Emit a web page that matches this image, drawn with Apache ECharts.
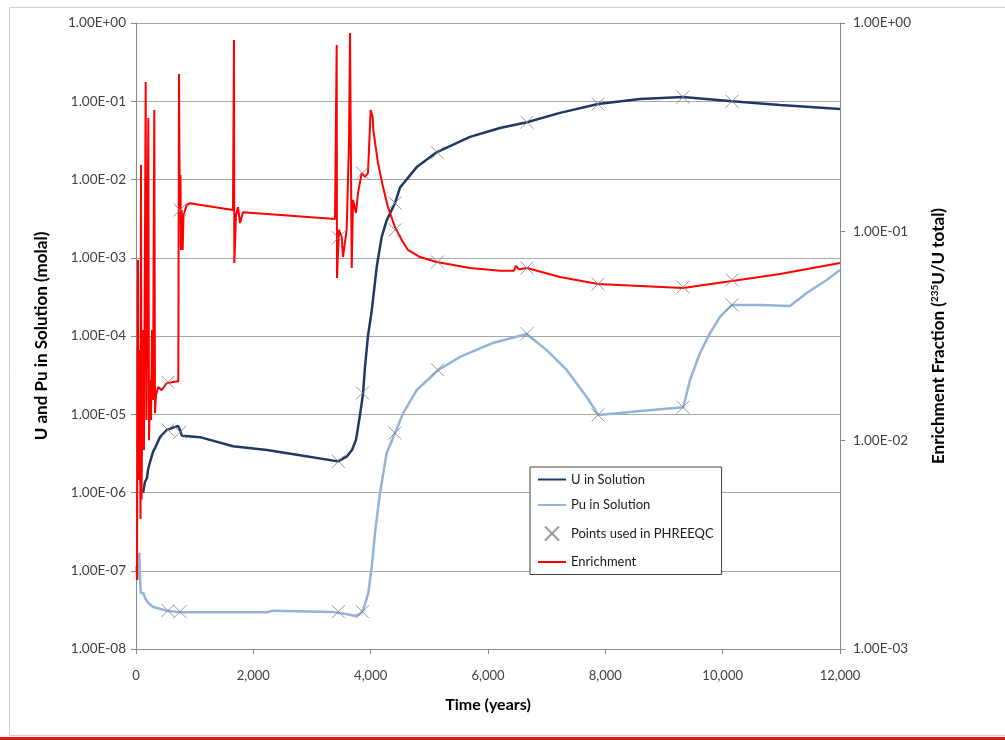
<!DOCTYPE html>
<html>
<head>
<meta charset="utf-8">
<script src="https://cdn.jsdelivr.net/npm/echarts@6/dist/echarts.min.js"></script>
<style>
  html, body { margin: 0; padding: 0; background: #fff; }
  #chart { width: 1005px; height: 740px; }
</style>
</head>
<body>
<div id="chart"></div>
<script>
// ---- Data ----
const xTickLabels = ['0', '2,000', '4,000', '6,000', '8,000', '10,000', '12,000'];
const leftTickLabels = ['1.00E-08', '1.00E-07', '1.00E-06', '1.00E-05', '1.00E-04', '1.00E-03', '1.00E-02', '1.00E-01', '1.00E+00'];
const rightTickLabels = ['1.00E-03', '1.00E-02', '1.00E-01', '1.00E+00'];

const uYears = [120,153,187,204,239,290,324,409,528,716,750,784,1091,1653,2233,2795,3443,3596,3682,3750,3818,3869,3903,3954,4018,4103,4188,4273,4415,4500,4785,5131,5693,6204,6665,7227,7875,8591,9324,10159,10977,12000];
const uValues = [9.9e-7,1.36e-6,1.53e-6,1.94e-6,2.45e-6,3.3e-6,3.7e-6,5.1e-6,6.3e-6,7.1e-6,6.3e-6,5.3e-6,5.1e-6,3.9e-6,3.5e-6,3.0e-6,2.5e-6,2.9e-6,3.5e-6,4.7e-6,9.8e-6,1.8e-5,4.0e-5,1.0e-4,2.1e-4,7.6e-4,1.85e-3,3.0e-3,5.0e-3,7.9e-3,1.44e-2,2.24e-2,3.5e-2,4.55e-2,5.4e-2,7.1e-2,9.2e-2,1.07e-1,1.13e-1,1.0e-1,8.95e-2,7.95e-2];

const puYears = [22,56,80,124,153,210,295,523,750,2228,2335,3358,3591,3733,3818,3874,3960,4018,4074,4159,4273,4415,4556,4785,5153,5523,6085,6659,7000,7341,7682,7880,8600,9329,9443,9613,9784,9954,10153,10636,11147,11432,11773,12000];
const puValues = [7.6e-8,1.69e-7,5.2e-8,5.2e-8,4.49e-8,3.87e-8,3.44e-8,3.09e-8,2.94e-8,2.94e-8,3.09e-8,2.96e-8,2.8e-8,2.64e-8,2.8e-8,3.16e-8,5.2e-8,1.12e-7,3.03e-7,9.86e-7,3.2e-6,5.75e-6,1.04e-5,2.04e-5,3.68e-5,5.4e-5,8.15e-5,1.06e-4,6.6e-5,3.68e-5,1.66e-5,9.8e-6,1.1e-5,1.23e-5,2.74e-5,6.07e-5,1.09e-4,1.75e-4,2.49e-4,2.49e-4,2.42e-4,3.55e-4,5.2e-4,6.97e-4];

const enYears = [10,17,26,34,43,60,77,85,94,119,136,165,179,210,222,239,256,273,290,312,324,341,380,438,523,721,733,741,750,758,767,779,796,810,864,920,1653,1670,1676,1704,1739,1773,1824,3392,3421,3426,3460,3506,3528,3591,3631,3648,3677,3699,3750,3784,3847,3903,3954,4000,4034,4045,4125,4210,4295,4415,4529,4636,4841,5125,5693,6204,6443,6477,6528,6665,7227,7875,8591,9324,10159,10977,12000];
const enValues = [0.0025,0.00214,0.0217,0.0731,0.00646,0.0271,0.0042,0.209,0.0052,0.0338,0.009,0.521,0.0125,0.351,0.01,0.0195,0.0125,0.0338,0.0156,0.383,0.0135,0.0165,0.018,0.0174,0.0188,0.0192,0.570,0.220,0.127,0.187,0.0817,0.127,0.0817,0.120,0.134,0.137,0.127,0.829,0.0708,0.120,0.131,0.110,0.124,0.115,0.785,0.060,0.102,0.0943,0.0756,0.102,0.275,0.895,0.067,0.142,0.123,0.153,0.191,0.183,0.191,0.383,0.355,0.307,0.213,0.164,0.131,0.105,0.0912,0.0817,0.0756,0.0716,0.067,0.065,0.065,0.0685,0.066,0.067,0.0606,0.0561,0.0549,0.0537,0.058,0.0627,0.0708];

const markerYears = [545,750,3450,3860,4415,5140,6665,7875,9324,10159];
const markerU = [6.3e-6,5.9e-6,2.5e-6,1.87e-5,5.0e-3,2.2e-2,5.4e-2,9.2e-2,1.13e-1,1.0e-1];
const markerPu = [3.1e-8,3.0e-8,3.0e-8,3.0e-8,5.75e-6,3.7e-5,1.07e-4,9.8e-6,1.23e-5,2.5e-4];
const markerEn = [0.019,0.127,0.0935,0.191,0.102,0.0716,0.067,0.0561,0.0543,0.0588];

// ---- Build ----
const zip = (xs, ys) => xs.map((x, i) => [x, ys[i]]);
const FONT = 'Lato, "Open Sans", sans-serif';
const AXIS_GRAY = '#8a8a8a';
const CROSS = 'path://M0,0L10,10M10,0L0,10';

const markerStyle = {
  type: 'scatter',
  name: 'Points used in PHREEQC',
  symbol: CROSS,
  symbolSize: 13,
  itemStyle: { color: 'none', borderColor: '#7f7f7f', borderWidth: 1 },
  z: 3
};

const chart = echarts.init(document.getElementById('chart'), null, { renderer: 'canvas' });
chart.setOption({
  animation: false,
  backgroundColor: '#ffffff',
  textStyle: { fontFamily: FONT },
  grid: { left: 136, right: 165, top: 23, bottom: 91, containLabel: false },
  graphic: [
    { type: 'rect', shape: { x: 9.5, y: 7.5, width: 1000, height: 728 }, style: { fill: 'none', stroke: '#d0d0d0', lineWidth: 1 }, z: -10, silent: true },
    { type: 'rect', shape: { x: 0, y: 737, width: 1005, height: 3 }, style: { fill: '#e3191c' }, z: -10, silent: true }
  ],
  legend: {
    orient: 'vertical',
    left: 530,
    top: 467,
    padding: [6, 8, 6, 7],
    itemWidth: 28,
    itemHeight: 14,
    itemGap: 12.5,
    backgroundColor: '#ffffff',
    borderColor: '#404040',
    borderWidth: 1,
    borderRadius: 0,
    textStyle: { fontFamily: FONT, fontSize: 13, color: '#1a1a1a' },
    data: [
      { name: 'U in Solution', itemStyle: { opacity: 0 } },
      { name: 'Pu in Solution', itemStyle: { opacity: 0 } },
      { name: 'Points used in PHREEQC' },
      { name: 'Enrichment', itemStyle: { opacity: 0 } }
    ]
  },
  xAxis: {
    type: 'value',
    min: 0, max: 12000, interval: 2000,
    name: 'Time (years)',
    nameLocation: 'middle',
    nameGap: 48,
    nameTextStyle: { fontFamily: FONT, fontSize: 16, fontWeight: 'bold', color: '#000' },
    axisLine: { show: true, onZero: false, lineStyle: { color: AXIS_GRAY, width: 1 } },
    axisTick: { show: true, inside: false, length: 5, lineStyle: { color: AXIS_GRAY } },
    axisLabel: { margin: 20, fontFamily: FONT, fontSize: 13, color: '#404040',
      formatter: v => xTickLabels[Math.round(v / 2000)] },
    splitLine: { show: false }
  },
  yAxis: [
    {
      type: 'log', logBase: 10, min: 1e-8, max: 1, splitNumber: 8,
      position: 'left',
      name: 'U and Pu in Solution (molal)',
      nameLocation: 'middle',
      nameRotate: 90,
      nameGap: 86,
      nameTextStyle: { fontFamily: FONT, fontSize: 17, fontWeight: 'bold', color: '#000' },
      axisLine: { show: true, lineStyle: { color: AXIS_GRAY, width: 1 } },
      axisTick: { show: true, length: 5, lineStyle: { color: AXIS_GRAY } },
      axisLabel: { margin: 10, fontFamily: FONT, fontSize: 13.5, color: '#404040',
        formatter: v => leftTickLabels[Math.round(Math.log10(v)) + 8] },
      splitLine: { show: true, lineStyle: { color: '#a6a6a6', width: 1 } }
    },
    {
      type: 'log', logBase: 10, min: 1e-3, max: 1, splitNumber: 3,
      position: 'right',
      name: 'Enrichment Fraction ({sup|235}U/U total)',
      nameLocation: 'middle',
      nameRotate: 90,
      nameGap: 90,
      nameTextStyle: { fontFamily: FONT, fontSize: 17, fontWeight: 'bold', color: '#000',
        rich: { sup: { fontFamily: FONT, fontSize: 10, fontWeight: 'bold', color: '#000', verticalAlign: 'top' } } },
      axisLine: { show: true, lineStyle: { color: AXIS_GRAY, width: 1 } },
      axisTick: { show: true, length: 5, lineStyle: { color: AXIS_GRAY } },
      axisLabel: { margin: 13, fontFamily: FONT, fontSize: 13.5, color: '#404040',
        formatter: v => rightTickLabels[Math.round(Math.log10(v)) + 3] },
      splitLine: { show: false }
    }
  ],
  series: [
    {
      type: 'line', name: 'U in Solution', yAxisIndex: 0,
      data: zip(uYears, uValues),
      symbol: 'none', smooth: false,
      lineStyle: { color: '#1f3864', width: 2.5 },
      itemStyle: { color: '#1f3864' },
      z: 2
    },
    {
      type: 'line', name: 'Pu in Solution', yAxisIndex: 0,
      data: zip(puYears, puValues),
      symbol: 'none', smooth: false,
      lineStyle: { color: '#95b3d7', width: 2.5 },
      itemStyle: { color: '#95b3d7' },
      z: 2
    },
    Object.assign({}, markerStyle, { yAxisIndex: 0, data: zip(markerYears, markerU) }),
    Object.assign({}, markerStyle, { yAxisIndex: 0, data: zip(markerYears, markerPu) }),
    Object.assign({}, markerStyle, { yAxisIndex: 1, data: zip(markerYears, markerEn) }),
    {
      type: 'line', name: 'Enrichment', yAxisIndex: 1,
      data: zip(enYears, enValues),
      symbol: 'none', smooth: false,
      lineStyle: { color: '#ff0000', width: 2 },
      itemStyle: { color: '#ff0000' },
      z: 2
    }
  ]
});
</script>
</body>
</html>
